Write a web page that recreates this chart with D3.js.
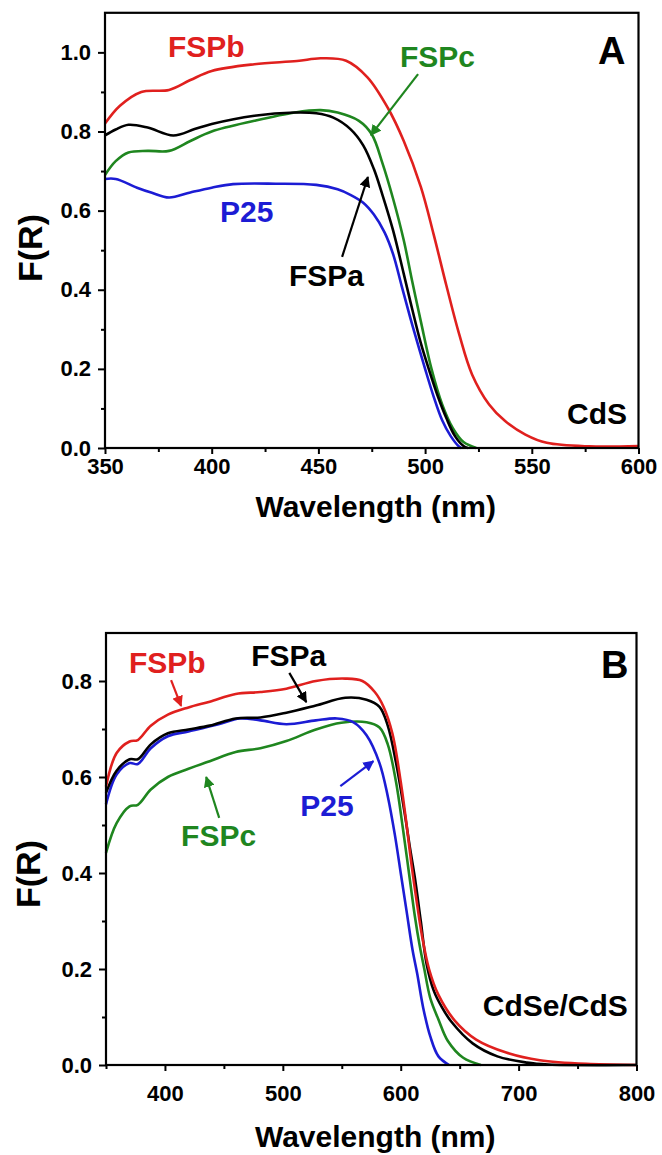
<!DOCTYPE html>
<html>
<head>
<meta charset="utf-8">
<script src="https://cdn.jsdelivr.net/npm/d3@7"></script>
<style>
  html, body { margin: 0; padding: 0; background: #fff; }
  svg { display: block; }
  text { font-family: "Liberation Sans", Arial, sans-serif; font-weight: bold; }
</style>
</head>
<body>
<svg id="chart" width="662" height="1155"></svg>
<script>
// ---------------- DATA ----------------
// Panel A (CdS): [wavelength nm, F(R)]
const A_FSPb = [[350,0.82],[357,0.865],[367,0.90],[380,0.905],[390,0.93],[400,0.953],[420,0.97],[440,0.978],[451,0.985],[463,0.979],[473,0.937],[482.5,0.86],[490,0.776],[498,0.66],[504,0.54],[510,0.41],[516,0.287],[522,0.186],[530,0.11],[537.5,0.068],[547,0.034],[557,0.013],[577,0.004],[600,0.005]];
const A_FSPa = [[350,0.79],[355,0.805],[361,0.817],[370,0.81],[382,0.79],[392,0.806],[400,0.819],[420,0.84],[439,0.848],[449,0.846],[457,0.835],[465,0.806],[471,0.765],[476,0.705],[480,0.64],[485,0.55],[490,0.44],[494,0.35],[498,0.265],[502,0.195],[506,0.13],[510,0.075],[514,0.03],[518,0.005],[520,0]];
const A_FSPc = [[350,0.69],[355,0.725],[361,0.747],[370,0.751],[380,0.751],[390,0.776],[400,0.80],[420,0.827],[439,0.848],[451,0.854],[459,0.848],[469,0.827],[475,0.793],[480,0.72],[485,0.63],[490,0.525],[494,0.42],[498,0.32],[503,0.2],[508,0.11],[513,0.05],[518,0.015],[524,0]];
const A_P25  = [[350,0.68],[355,0.68],[365,0.658],[372,0.645],[380,0.633],[390,0.646],[400,0.658],[410,0.667],[430,0.668],[449,0.665],[459,0.654],[465,0.64],[471,0.62],[476,0.59],[481,0.545],[485,0.49],[489,0.41],[493,0.33],[497,0.255],[500,0.2],[504,0.13],[508,0.07],[512,0.03],[516,0.003],[517,0]];

// Panel B (CdSe/CdS)
const B_FSPb = [[350,0.58],[359,0.65],[370,0.674],[377,0.677],[388,0.707],[402.5,0.73],[420,0.745],[438,0.757],[460,0.773],[481,0.777],[503,0.784],[528,0.80],[553,0.805],[567.5,0.80],[578,0.777],[585.5,0.746],[593,0.69],[600,0.59],[605,0.50],[609,0.42],[613,0.35],[618,0.27],[624,0.2],[632,0.146],[646,0.092],[664,0.053],[689.5,0.026],[718,0.01],[761,0.002],[800,0]];
const B_FSPa = [[350,0.567],[359,0.613],[370,0.637],[377,0.637],[388,0.668],[402.5,0.691],[420,0.699],[438,0.707],[460,0.722],[481,0.724],[503,0.734],[528,0.749],[553,0.765],[571,0.761],[582,0.746],[589,0.707],[596,0.63],[603,0.53],[608,0.45],[612,0.39],[617,0.3],[622,0.21],[628,0.155],[635,0.12],[643,0.09],[661,0.045],[682,0.018],[707,0.005],[725,0.001],[800,0]];
const B_FSPc = [[350,0.442],[359,0.504],[370,0.539],[377,0.542],[388,0.574],[402.5,0.60],[420,0.617],[438,0.633],[460,0.652],[481,0.66],[503,0.675],[528,0.699],[549.6,0.713],[571,0.714],[582,0.703],[589,0.668],[596,0.59],[602,0.49],[607,0.40],[612,0.31],[616,0.25],[620,0.2],[625,0.14],[632,0.095],[640,0.05],[653,0.015],[668,0]];
const B_P25  = [[350,0.543],[359,0.605],[370,0.629],[377,0.627],[388,0.66],[402.5,0.685],[420,0.695],[445.5,0.71],[463.5,0.722],[481,0.718],[503,0.71],[528,0.718],[546,0.722],[560,0.714],[571,0.687],[582,0.629],[589,0.56],[595,0.48],[600,0.40],[605,0.32],[610,0.24],[614,0.19],[619,0.12],[625,0.06],[632,0.018],[641,0]];

// Ticks
const A_xTicks = [350,400,450,500,550,600];
const A_xMinor = [375,425,475,525,575];
const A_yTicks = [0,0.2,0.4,0.6,0.8,1.0];
const A_yMinor = [0.1,0.3,0.5,0.7,0.9];
const B_xTicks = [400,500,600,700,800];
const B_xMinor = [350,450,550,650,750];
const B_yTicks = [0,0.2,0.4,0.6,0.8];
const B_yMinor = [0.1,0.3,0.5,0.7];

// Labels [text, x(nm), y(F(R)), color, anchor]
const A_labels = [
  ["FSPb", 379.5, 0.988, "red", "start"],
  ["FSPc", 488.2, 0.963, "green", "start"],
  ["P25", 403.9, 0.571, "blue", "start"],
  ["FSPa", 436.2, 0.409, "black", "start"],
  ["CdS", 594.6, 0.061, "black", "end"]
];
const A_arrows = [ // [x1,y1,x2,y2,color] head at (x2,y2)
  [496.7, 0.945, 474.6, 0.791, "green"],
  [461.1, 0.483, 473.2, 0.685, "black"]
];
const B_labels = [
  ["FSPb", 369.5, 0.817, "red", "start"],
  ["FSPa", 473.2, 0.831, "black", "start"],
  ["P25", 514.8, 0.519, "blue", "start"],
  ["FSPc", 413.7, 0.456, "green", "start"],
  ["CdSe/CdS", 792.6, 0.102, "black", "end"]
];
const B_arrows = [
  [405.2, 0.802, 413.7, 0.748, "red"],
  [505.5, 0.817, 519.9, 0.756, "black"],
  [548.8, 0.581, 576.8, 0.633, "blue"],
  [446.0, 0.515, 435.0, 0.600, "green"]
];

const colors = { red: "#e0201e", black: "#000000", green: "#1f861f", blue: "#1c1cd4" };

// ---------------- DRAW ----------------
const svg = d3.select("#chart");
svg.append("rect").attr("width", 662).attr("height", 1155).attr("fill", "#fff");

const defs = svg.append("defs");
Object.entries(colors).forEach(([k, c]) => {
  defs.append("marker").attr("id", "arrow-" + k)
    .attr("viewBox", "0 0 10 10").attr("refX", 9).attr("refY", 5)
    .attr("markerWidth", 5).attr("markerHeight", 5)
    .attr("markerUnits", "strokeWidth")
    .attr("orient", "auto")
    .append("path").attr("d", "M0,0 L10,5 L0,10 Z").attr("fill", c);
});

function panel(cfg) {
  const x = d3.scaleLinear().domain(cfg.xDom).range(cfg.xRange);
  const y = d3.scaleLinear().domain(cfg.yDom).range(cfg.yRange);
  const g = svg.append("g");

  // curves
  const line = d3.line().x(d => x(d[0])).y(d => y(d[1])).curve(d3.curveCatmullRom.alpha(0.5));
  cfg.series.forEach(s => {
    g.append("path").datum(s.data).attr("d", line)
      .attr("fill", "none").attr("stroke", colors[s.color])
      .attr("stroke-width", 2.6).attr("stroke-linejoin", "round");
  });

  // x axis
  const xAx = g.append("g").attr("transform", `translate(0,${cfg.yRange[0]})`)
    .call(d3.axisBottom(x).tickValues(cfg.xTicks).tickSize(6).tickPadding(cfg.xPad).tickFormat(d3.format("d")));
  const xMin = g.append("g").attr("transform", `translate(0,${cfg.yRange[0]})`)
    .call(d3.axisBottom(x).tickValues(cfg.xMinor).tickSize(4).tickFormat(""));
  const yAx = g.append("g").attr("transform", `translate(${cfg.xRange[0]},0)`)
    .call(d3.axisLeft(y).tickValues(cfg.yTicks).tickSize(7).tickPadding(7).tickFormat(d3.format(".1f")));
  const yMin = g.append("g").attr("transform", `translate(${cfg.xRange[0]},0)`)
    .call(d3.axisLeft(y).tickValues(cfg.yMinor).tickSize(4).tickFormat(""));
  [xAx, xMin, yAx, yMin].forEach(a => {
    a.select(".domain").remove();
    a.selectAll("line").attr("stroke", "#000").attr("stroke-width", 2);
    a.selectAll("text").attr("font-size", 22).attr("fill", "#000")
      .attr("font-family", "'Liberation Sans', Arial, sans-serif").attr("font-weight", "bold");
  });

  // frame
  g.append("rect").attr("x", cfg.xRange[0]).attr("y", cfg.yRange[1])
    .attr("width", cfg.xRange[1] - cfg.xRange[0]).attr("height", cfg.yRange[0] - cfg.yRange[1])
    .attr("fill", "none").attr("stroke", "#000").attr("stroke-width", 2.2);

  // labels
  cfg.labels.forEach(l => {
    g.append("text").attr("x", x(l[1])).attr("y", y(l[2]))
      .attr("text-anchor", l[4]).attr("font-size", 30).attr("fill", colors[l[3]]).text(l[0]);
  });
  // arrows
  cfg.arrows.forEach(a => {
    g.append("line").attr("x1", x(a[0])).attr("y1", y(a[1])).attr("x2", x(a[2])).attr("y2", y(a[3]))
      .attr("stroke", colors[a[4]]).attr("stroke-width", 2.2)
      .attr("marker-end", `url(#arrow-${a[4]})`);
  });
  // panel letter
  g.append("text").attr("x", cfg.letter[1]).attr("y", cfg.letter[2])
    .attr("font-size", 38).attr("fill", "#000").text(cfg.letter[0]);
  // axis titles
  const cx = (cfg.xRange[0] + cfg.xRange[1]) / 2 + 4;
  g.append("text").attr("x", cx).attr("y", cfg.xTitleY).attr("text-anchor", "middle")
    .attr("font-size", 30).attr("fill", "#000").text("Wavelength (nm)");
  g.append("text").attr("transform", `translate(${cfg.yTitle[0]},${cfg.yTitle[1]}) rotate(-90)`)
    .attr("text-anchor", "middle").attr("font-size", 34).attr("fill", "#000").text("F(R)");
}

panel({
  xDom: [350, 600], xRange: [105, 638.5],
  yDom: [0, 1.1], yRange: [448, 12.8],
  xTicks: A_xTicks, xMinor: A_xMinor, yTicks: A_yTicks, yMinor: A_yMinor, xPad: 4,
  series: [
    { data: A_FSPb, color: "red" }, { data: A_FSPc, color: "green" },
    { data: A_FSPa, color: "black" }, { data: A_P25, color: "blue" }
  ],
  labels: A_labels, arrows: A_arrows,
  letter: ["A", 598, 64], xTitleY: 517, yTitle: [42, 248]
});

panel({
  xDom: [350, 800], xRange: [106, 636.5],
  yDom: [0, 0.9], yRange: [1065, 633],
  xTicks: B_xTicks, xMinor: B_xMinor, yTicks: B_yTicks, yMinor: B_yMinor, xPad: 14,
  series: [
    { data: B_FSPc, color: "green" }, { data: B_P25, color: "blue" },
    { data: B_FSPa, color: "black" }, { data: B_FSPb, color: "red" }
  ],
  labels: B_labels, arrows: B_arrows,
  letter: ["B", 601, 678], xTitleY: 1147, yTitle: [40, 874]
});
</script>
</body>
</html>
